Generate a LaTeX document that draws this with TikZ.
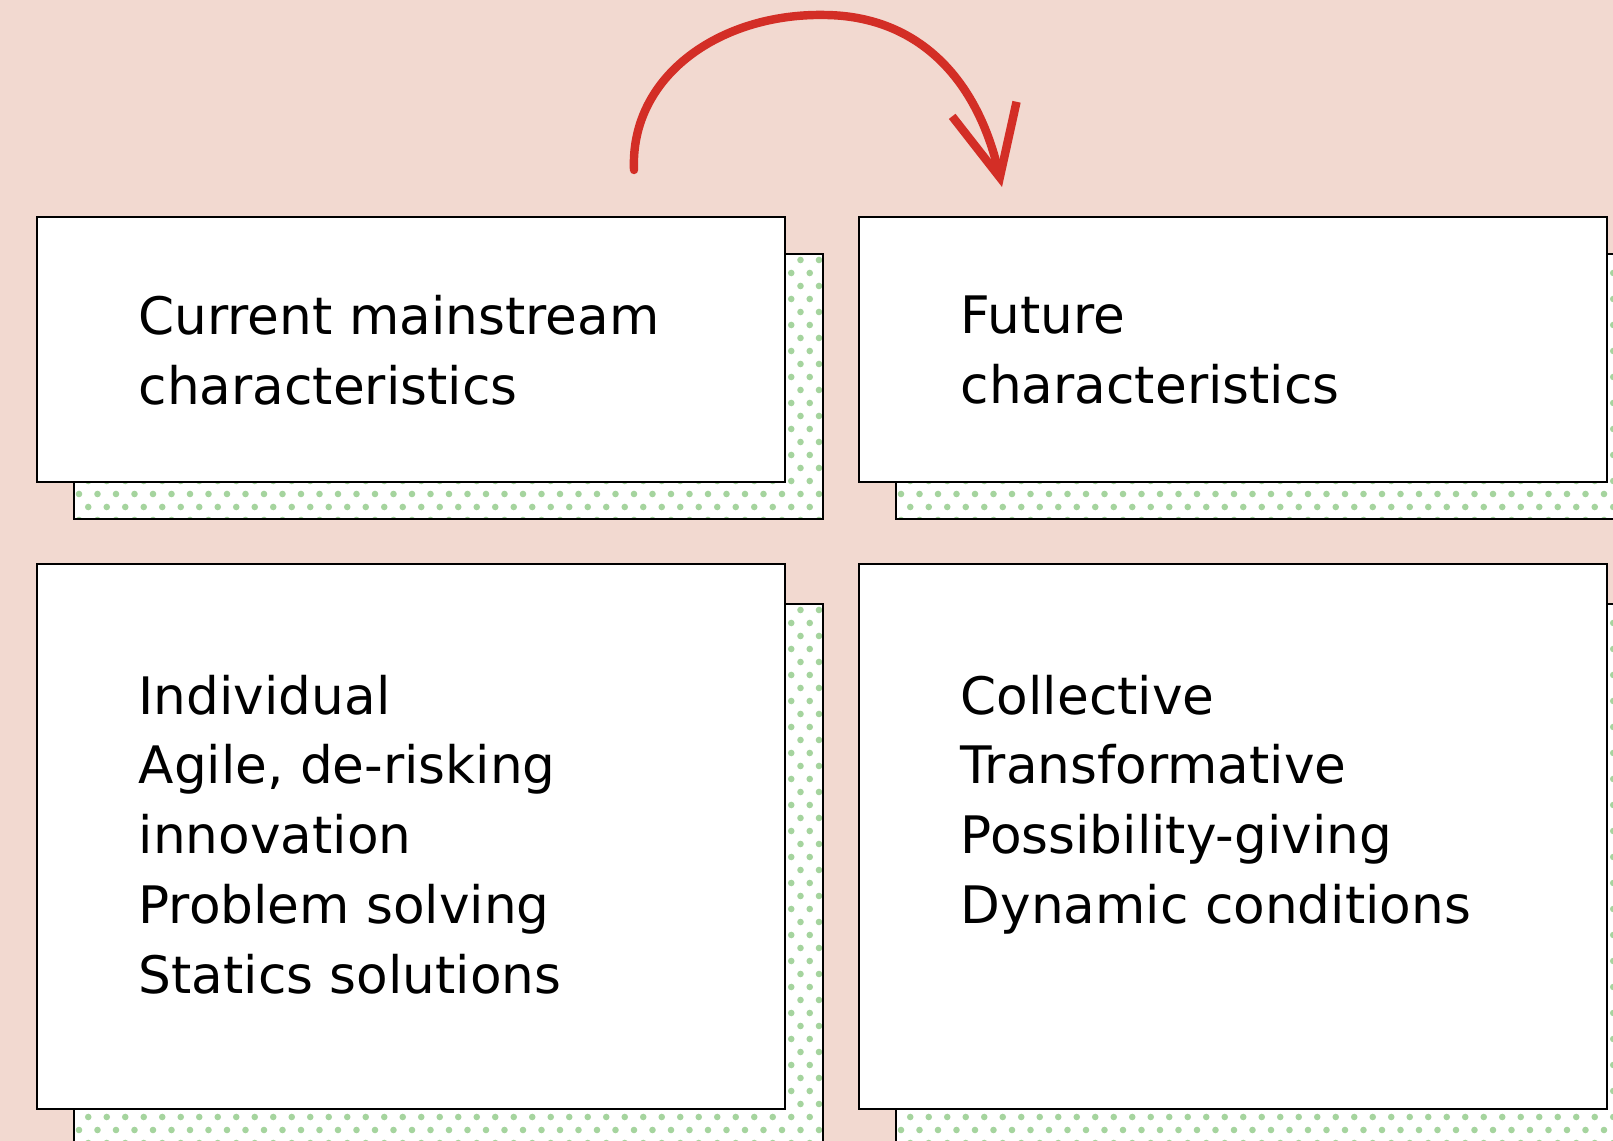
\documentclass[tikz,border=0pt]{standalone}
\usepackage{fontspec}
\setmainfont{DejaVu Sans}
\usetikzlibrary{positioning,arrows.meta}

\definecolor{bgPink}{RGB}{242,217,208}
\definecolor{dotGreen}{RGB}{165,212,158}
\definecolor{arrowRed}{RGB}{211,46,38}

\begin{document}
\begin{tikzpicture}
[cardBox/.style={draw=black,line width=0.6pt,fill=white,inner sep=0pt,minimum width=7.48cm},%
  shadowBox/.style={draw=black,line width=0.6pt},%
  cardText/.style={anchor=north west,align=left,inner sep=0pt,font=\fontsize{14.7}{19.9}\selectfont},%
  curveArrow/.style={-{Straight Barb[length=7mm,width=6.6mm]},line width=2.4pt,line cap=round,line join=round,draw=arrowRed}]
%% background, fixes the size of the page
\fill[bgPink] (0,0) rectangle (16.13,11.41);
\useasboundingbox (0,0) rectangle (16.13,11.41);
%% dotted shadows behind the cards
\foreach \sx/\sy/\sh/\nrows in {0.74/6.22/2.65/21, 8.96/6.22/2.65/21,
  0.74/-0.2/5.57/43, 8.96/-0.2/5.57/43}
{
  \begin{scope}
    \clip (\sx,\sy) rectangle ++(7.49,\sh);
    \fill[white] (\sx,\sy) rectangle ++(7.49,\sh);
    \fill[dotGreen] \foreach \j in {0,...,\nrows} {\foreach \i in {0,...,40}
      {({\sx+0.05+\i*0.185+0.0925*mod(\j,2)},{\sy+\sh-0.06-\j*0.13}) circle (0.033)}};
  \end{scope}
  \draw[shadowBox] (\sx,\sy) rectangle ++(7.49,\sh);
}
%% the four cards
\node[cardBox,minimum height=2.65cm,anchor=north west] (curCard) at (0.36,9.25) {};
\node[cardBox,minimum height=2.65cm,right=0.72cm of curCard.north east,anchor=north west] (futCard) {};
\node[cardBox,minimum height=5.45cm,below=0.80cm of curCard.south west,anchor=north west] (curList) {};
\node[cardBox,minimum height=5.45cm,below=0.80cm of futCard.south west,anchor=north west] (futList) {};
%% texts
\node[cardText] (curTitle) at ([shift={(1.02,-0.79)}]curCard.north west) {Current mainstream\\characteristics};
\node[cardText] (futTitle) at ([shift={(1.02,-0.79)}]futCard.north west) {Future\\characteristics};
\node[cardText] (curItems) at ([shift={(1.02,-1.11)}]curList.north west)
  {Individual\\Agile, de-risking\\innovation\\Problem solving\\Statics solutions};
\node[cardText] (futItems) at ([shift={(1.02,-1.11)}]futList.north west)
  {Collective\\Transformative\\Possibility-giving\\Dynamic conditions};
%% the bent arrow from one card to the other
\coordinate (arrowStart) at (6.34,9.71);
\coordinate (arrowTop) at (8.25,11.26);
\coordinate (arrowTip) at (10.02,9.54);
\draw[curveArrow] (arrowStart) .. controls (6.30,10.65) and (7.20,11.28) .. (arrowTop)
  .. controls (9.20,11.25) and (9.78,10.60) .. (arrowTip);
\end{tikzpicture}
\end{document}
